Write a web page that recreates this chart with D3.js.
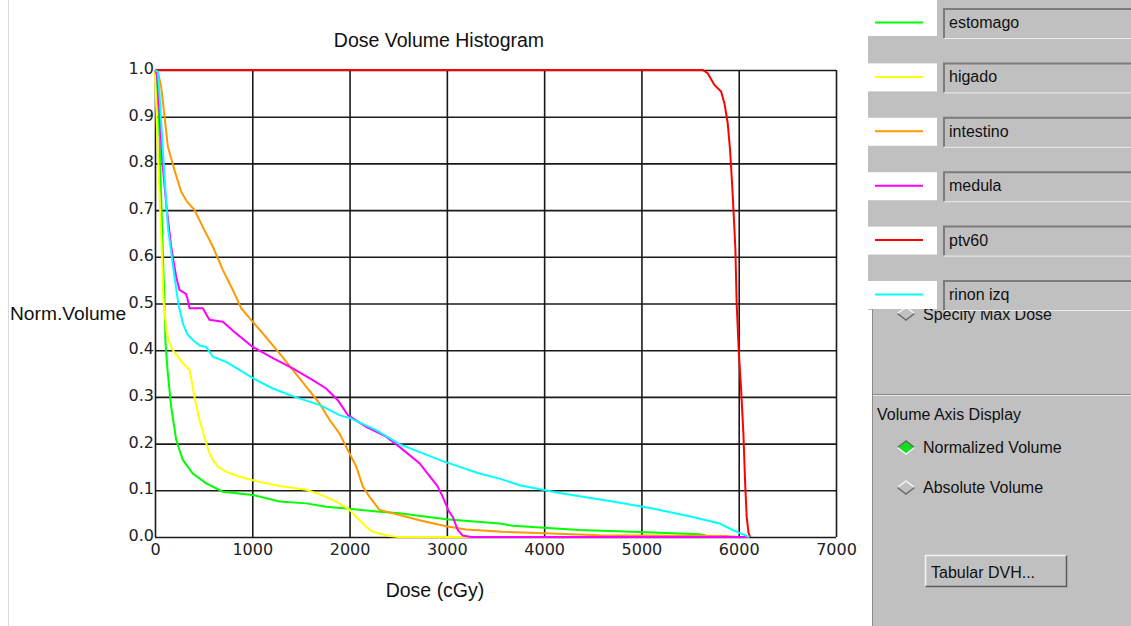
<!DOCTYPE html>
<html>
<head>
<meta charset="utf-8">
<script src="https://cdn.jsdelivr.net/npm/d3@7"></script>
<style>
  body { margin: 0; background: #fff; }
  svg { display: block; }
  .tick text { font-family: "DejaVu Sans", sans-serif; font-size: 16px; fill: #222; }
  .lbl { font-family: "Liberation Sans", Arial, sans-serif; fill: #111; }
</style>
</head>
<body>
<svg id="chart" width="1131" height="626"></svg>
<script>
// ---- data ----
const structures = ["estomago", "higado", "intestino", "medula", "ptv60", "rinon izq"];
const colors = ["#00ff00", "#ffff00", "#ff9900", "#ff00ff", "#ff0000", "#00ffff"];
const xTicks = [0, 1000, 2000, 3000, 4000, 5000, 6000, 7000];
const yTicks = [0, 0.1, 0.2, 0.3, 0.4, 0.5, 0.6, 0.7, 0.8, 0.9, 1.0];

// [dose cGy, normalized volume]
const estomago = [[0,1],[15,0.98],[40,0.9],[60,0.75],[75,0.65],[87,0.565],[98,0.507],[108,0.415],
  [132,0.35],[166,0.279],[218,0.208],[286,0.165],[389,0.136],[526,0.115],[697,0.097],[1005,0.09],
  [1280,0.076],[1554,0.072],[1759,0.065],[1965,0.061],[2307,0.054],[2513,0.051],[2993,0.038],
  [3541,0.029],[3678,0.024],[4363,0.015],[5048,0.01],[5596,0.006],[5650,0.004],[5700,0]];
const higado = [[0,1],[19,0.88],[46,0.736],[74,0.593],[87,0.507],[98,0.49],[115,0.443],[150,0.415],
  [183,0.4],[240,0.385],[286,0.372],[355,0.358],[380,0.33],[406,0.3],[457,0.251],[526,0.201],
  [560,0.18],[594,0.165],[650,0.15],[731,0.14],[868,0.129],[1074,0.118],[1313,0.108],[1554,0.101],
  [1657,0.094],[1759,0.086],[1827,0.079],[1896,0.072],[1999,0.058],[2102,0.036],[2180,0.02],
  [2239,0.011],[2410,0.002],[2500,0],[3250,0]];
const intestino = [[0,1],[25,1],[64,0.964],[98,0.9],[132,0.836],[200,0.786],[269,0.739],[330,0.718],
  [406,0.7],[491,0.664],[594,0.622],[697,0.572],[800,0.529],[886,0.49],[988,0.465],[1108,0.436],
  [1280,0.393],[1416,0.358],[1554,0.322],[1691,0.286],[1793,0.251],[1896,0.222],[1982,0.186],
  [2068,0.151],[2136,0.108],[2205,0.086],[2307,0.058],[2513,0.047],[2718,0.036],[2993,0.023],
  [3198,0.016],[3572,0.011],[4000,0.008],[4568,0.004],[5870,0.002],[6000,0]];
const medula = [[0,1],[20,0.99],[40,0.93],[60,0.86],[74,0.807],[115,0.714],[166,0.622],[218,0.557],
  [252,0.529],[321,0.52],[340,0.505],[355,0.49],[491,0.49],[560,0.465],[697,0.461],[834,0.436],
  [1005,0.407],[1211,0.383],[1416,0.361],[1622,0.336],[1759,0.318],[1879,0.293],[1982,0.261],
  [2170,0.236],[2307,0.222],[2376,0.215],[2513,0.193],[2718,0.158],[2800,0.136],[2900,0.11],
  [2958,0.086],[3020,0.055],[3061,0.043],[3112,0.015],[3163,0.003],[3250,0],[6110,0]];
const ptv60 = [[0,1],[5630,1],[5681,0.993],[5750,0.968],[5819,0.954],[5853,0.929],[5887,0.886],
  [5911,0.829],[5932,0.757],[5948,0.693],[5966,0.615],[5979,0.5],[6000,0.4],[6025,0.315],
  [6048,0.222],[6066,0.115],[6082,0.043],[6100,0.01],[6117,0]];
const rinonIzq = [[0,1],[29,0.996],[46,0.95],[87,0.807],[132,0.664],[177,0.593],[224,0.522],
  [245,0.495],[286,0.458],[330,0.435],[389,0.422],[460,0.41],[526,0.407],[594,0.386],[731,0.375],
  [868,0.358],[1005,0.34],[1211,0.318],[1451,0.299],[1691,0.283],[1896,0.261],[2000,0.255],
  [2273,0.229],[2513,0.199],[2950,0.163],[3335,0.136],[3541,0.125],[3746,0.111],[4157,0.094],
  [4705,0.076],[5116,0.061],[5527,0.043],[5801,0.029],[5938,0.015],[6050,0.005],[6110,0]];
const curves = [estomago, higado, intestino, medula, ptv60, rinonIzq];

// ---- layout ----
const svg = d3.select("#chart");
const plot = { left: 155, right: 836, top: 70, bottom: 537 };
const x = d3.scaleLinear().domain([0, 7000]).range([plot.left, plot.right]);
const y = d3.scaleLinear().domain([0, 1]).range([plot.bottom, plot.top]);

// thin page border on the left
svg.append("line").attr("x1", 8.5).attr("x2", 8.5).attr("y1", 0).attr("y2", 626)
  .attr("stroke", "#dcdcdc");

// grid + tick labels through d3 axes
svg.append("g").attr("transform", `translate(0,${plot.bottom})`)
  .call(d3.axisBottom(x).tickValues(xTicks).tickFormat(d3.format("d"))
    .tickSize(-(plot.bottom - plot.top)).tickSizeOuter(0).tickPadding(7))
  .call(g => g.select(".domain").remove())
  .call(g => g.selectAll(".tick line").attr("stroke", "#1a1a1a").attr("stroke-width", 1.6));

svg.append("g").attr("transform", `translate(${plot.left},0)`)
  .call(d3.axisLeft(y).tickValues(yTicks).tickFormat(d3.format(".1f"))
    .tickSize(-(plot.right - plot.left)).tickSizeOuter(0).tickPadding(1))
  .call(g => g.select(".domain").remove())
  .call(g => g.selectAll(".tick line").attr("stroke", "#1a1a1a").attr("stroke-width", 1.6))
  .call(g => g.selectAll(".tick text").attr("dy", 3.5));

// DVH curves
const line = d3.line().x(d => x(d[0])).y(d => y(d[1]));
svg.append("g").selectAll("path").data(curves).join("path")
  .attr("d", line).attr("fill", "none")
  .attr("stroke", (d, i) => colors[i]).attr("stroke-width", 2);

// titles
svg.append("text").attr("class", "lbl").attr("x", 439).attr("y", 47)
  .attr("text-anchor", "middle").style("font-size", "19.5px").text("Dose Volume Histogram");
svg.append("text").attr("class", "lbl").attr("x", 435).attr("y", 597)
  .attr("text-anchor", "middle").style("font-size", "19.5px").text("Dose (cGy)");
svg.append("text").attr("class", "lbl").attr("x", 10).attr("y", 320)
  .style("font-size", "19.2px").text("Norm.Volume");

// ---- right control panel ----
const gray = "#c0c0c0", dark = "#7b7b7b", light = "#ececec";
const panel = svg.append("g");
panel.append("rect").attr("x", 868).attr("y", 0).attr("width", 263).attr("height", 310).attr("fill", gray);
panel.append("rect").attr("x", 872).attr("y", 310).attr("width", 259).attr("height", 316).attr("fill", gray);
panel.append("line").attr("x1", 872.5).attr("x2", 872.5).attr("y1", 306).attr("y2", 626).attr("stroke", "#8a8a8a");
panel.append("line").attr("x1", 873).attr("x2", 1131).attr("y1", 394.5).attr("y2", 394.5).attr("stroke", "#8a8a8a");
panel.append("line").attr("x1", 873).attr("x2", 1131).attr("y1", 395.5).attr("y2", 395.5).attr("stroke", "#e6e6e6");

function diamond(cx, cy, on) {
  const w = 8.5, h = 6.5;
  panel.append("path").attr("d", `M${cx - w},${cy}L${cx},${cy - h}L${cx + w},${cy}L${cx},${cy + h}Z`)
    .attr("fill", on ? "#10e020" : gray);
  panel.append("path").attr("d", `M${cx - w},${cy}L${cx},${cy - h}L${cx + w},${cy}`)
    .attr("fill", "none").attr("stroke", on ? "#6a6a6a" : "#f4f4f4").attr("stroke-width", 1.5);
  panel.append("path").attr("d", `M${cx - w},${cy}L${cx},${cy + h}L${cx + w},${cy}`)
    .attr("fill", "none").attr("stroke", on ? "#f4f4f4" : "#6a6a6a").attr("stroke-width", 1.5);
}
const ptxt = (tx, ty, s) => panel.append("text").attr("class", "lbl").attr("x", tx).attr("y", ty)
  .style("font-size", "16px").text(s);

// partly hidden under the last legend row, as in the original window
diamond(906, 313.5, false);
ptxt(923, 320, "Specify Max Dose");
ptxt(877, 420, "Volume Axis Display");
diamond(906, 447.5, true);
ptxt(923, 453, "Normalized Volume");
diamond(906, 487.5, false);
ptxt(923, 493, "Absolute Volume");

// button
panel.append("rect").attr("x", 925).attr("y", 555).attr("width", 142).attr("height", 32).attr("fill", gray);
panel.append("path").attr("d", "M925.5,586.5V555.5H1066.5").attr("fill", "none").attr("stroke", "#f4f4f4").attr("stroke-width", 1.5);
panel.append("path").attr("d", "M925.5,586.5H1066.5V555.5").attr("fill", "none").attr("stroke", "#5a5a5a").attr("stroke-width", 1.5);
ptxt(931, 578, "Tabular DVH...");

// legend rows
const rowTop = i => 8 + i * 54.4;
const rows = panel.append("g").selectAll("g").data(structures).join("g");
rows.append("rect").attr("x", 868).attr("width", 69)
  .attr("y", (d, i) => i === 0 ? 0 : rowTop(i) + 1)
  .attr("height", (d, i) => i === 0 ? 36 : 28).attr("fill", "#fff");
rows.append("line").attr("x1", 875).attr("x2", 923)
  .attr("y1", (d, i) => rowTop(i) + 14.5).attr("y2", (d, i) => rowTop(i) + 14.5)
  .attr("stroke", (d, i) => colors[i]).attr("stroke-width", 2);
rows.append("rect").attr("x", 943).attr("width", 200)
  .attr("y", (d, i) => rowTop(i)).attr("height", 30).attr("fill", gray);
rows.append("path").attr("d", (d, i) => `M944,${rowTop(i) + 30}V${rowTop(i) + 1}H1140`)
  .attr("fill", "none").attr("stroke", dark).attr("stroke-width", 2);
rows.append("path").attr("d", (d, i) => `M944,${rowTop(i) + 30.5}H1140`)
  .attr("fill", "none").attr("stroke", light).attr("stroke-width", 1);
rows.append("text").attr("class", "lbl").attr("x", 949).attr("y", (d, i) => rowTop(i) + 20)
  .style("font-size", "16px").text(d => d);
</script>
</body>
</html>
